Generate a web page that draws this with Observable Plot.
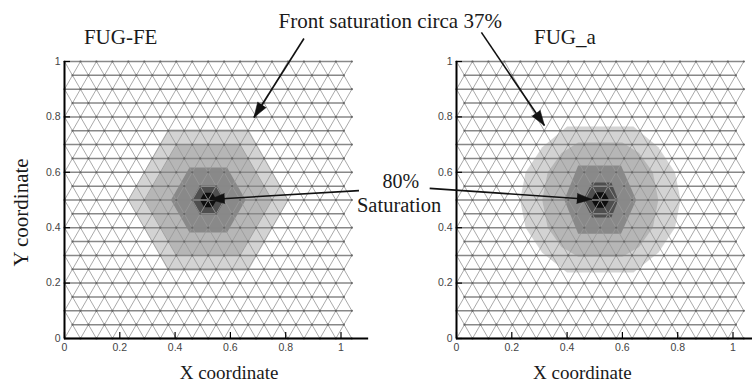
<!DOCTYPE html>
<html><head><meta charset="utf-8">
<script src="https://cdn.jsdelivr.net/npm/d3@7"></script>
<script src="https://cdn.jsdelivr.net/npm/@observablehq/plot@0.6"></script>
<style>
html,body{margin:0;padding:0;background:#fff;overflow:hidden;}
#chart{width:752px;height:385px;overflow:hidden;position:relative;}
#chart svg{max-width:none;}
</style></head><body><div id="chart"></div>
<script>
// ---- data ----
const panels = ["FUG-FE", "FUG_a"];
const xTicks = [0, 0.2, 0.4, 0.6, 0.8, 1];
const yTicks = [0, 0.2, 0.4, 0.6, 0.8, 1];
const tickLabels = ["0", "0.2", "0.4", "0.6", "0.8", "1"];
const meshRows = 20, meshCols = 18, meshRowHeight = 0.05;
const xMax = 1.1;
const bandColors = ["#d3d3d3", "#b6b6b6", "#898989", "#4e4e4e", "#0e0e0e"];

// contour bands (outer -> inner), polygon vertices
const feBands = [
  [[0.23,0.5],[0.375,0.755],[0.665,0.755],[0.81,0.5],[0.665,0.245],[0.375,0.245]],
  [[0.29,0.5],[0.405,0.70],[0.635,0.70],[0.75,0.5],[0.635,0.30],[0.405,0.30]],
  [[0.385,0.5],[0.452,0.617],[0.588,0.617],[0.655,0.5],[0.588,0.383],[0.452,0.383]],
  [[0.46,0.5],[0.49,0.552],[0.55,0.552],[0.58,0.5],[0.55,0.448],[0.49,0.448]],
  [[0.49,0.5],[0.505,0.526],[0.535,0.526],[0.55,0.5],[0.535,0.474],[0.505,0.474]]
];
const faBands = [
  [[0.23,0.5],[0.25,0.6],[0.31,0.69],[0.40,0.765],[0.64,0.765],[0.73,0.69],[0.79,0.6],[0.81,0.5],[0.79,0.4],[0.73,0.31],[0.64,0.238],[0.40,0.238],[0.31,0.31],[0.25,0.4]],
  [[0.31,0.5],[0.33,0.6],[0.38,0.67],[0.44,0.708],[0.60,0.708],[0.66,0.67],[0.71,0.6],[0.73,0.5],[0.71,0.4],[0.66,0.33],[0.60,0.295],[0.44,0.295],[0.38,0.33],[0.33,0.4]],
  [[0.39,0.5],[0.44,0.625],[0.595,0.625],[0.65,0.5],[0.595,0.378],[0.44,0.378]],
  [[0.458,0.5],[0.49,0.563],[0.56,0.563],[0.585,0.5],[0.56,0.437],[0.49,0.437]],
  [[0.488,0.5],[0.504,0.528],[0.536,0.528],[0.552,0.5],[0.536,0.472],[0.504,0.472]]
];

const labels = [
  {panel: "FUG-FE", x: 0.203, y: 1.088, text: "FUG-FE", size: 21, rotate: 0},
  {panel: "FUG_a", x: 0.392, y: 1.088, text: "FUG_a", size: 21, rotate: 0},
  {panel: "FUG-FE", x: 1.178, y: 1.147, text: "Front saturation circa 37%", size: 21, rotate: 0},
  {panel: "FUG-FE", x: 1.216, y: 0.565, text: "80%", size: 20, rotate: 0},
  {panel: "FUG-FE", x: 1.21, y: 0.479, text: "Saturation", size: 20.5, rotate: 0},
  {panel: "FUG-FE", x: 0.595, y: -0.125, text: "X coordinate", size: 19, rotate: 0},
  {panel: "FUG_a", x: 0.455, y: -0.125, text: "X coordinate", size: 19, rotate: 0},
  {panel: "FUG-FE", x: -0.155, y: 0.455, text: "Y coordinate", size: 21, rotate: -90}
];

const arrows = [
  {panel: "FUG-FE", x1: 0.866, y1: 1.083, x2: 0.685, y2: 0.798},
  {panel: "FUG_a", x1: 0.090, y1: 1.105, x2: 0.318, y2: 0.769},
  {panel: "FUG-FE", x1: 1.065, y1: 0.534, x2: 0.525, y2: 0.502},
  {panel: "FUG_a", x1: -0.097, y1: 0.542, x2: 0.49, y2: 0.502}
];

// ---- derived tables ----
const contourRows = [];
[["FUG-FE", feBands], ["FUG_a", faBands]].forEach(([panel, bands]) =>
  bands.forEach((pts, i) => pts.forEach(([x, y]) =>
    contourRows.push({panel, band: i, x, y, color: bandColors[i]}))));

const side = meshRowHeight * 2 / Math.sqrt(3);
const meshH = [], meshD = [], meshNodes = [];
for (let j = 0; j <= meshRows; j++) {
  const y = j * meshRowHeight, odd = j % 2 === 1;
  meshH.push({x1: odd ? side / 2 : 0, x2: odd ? (meshCols - 0.5) * side : meshCols * side, y1: y, y2: y});
  const n = odd ? meshCols : meshCols + 1;
  for (let k = 0; k < n; k++) meshNodes.push({x: (odd ? k + 0.5 : k) * side, y});
}
for (let j = 0; j < meshRows; j++) {
  const ya = j * meshRowHeight, yb = (j + 1) * meshRowHeight;
  const yOdd = j % 2 === 1 ? ya : yb, yEven = j % 2 === 1 ? yb : ya;
  for (let k = 0; k < meshCols; k++) {
    const xo = (k + 0.5) * side;
    meshD.push({x1: k * side, y1: yEven, x2: xo, y2: yOdd});
    meshD.push({x1: (k + 1) * side, y1: yEven, x2: xo, y2: yOdd});
  }
}
const headAngle = d => Math.atan2(d.x2 - d.x1, d.y2 - d.y1) * 180 / Math.PI;

// layout
const marginLeft = 64, facetStep = 392, pxPerUnit = 276.5;
const bandwidth = xMax * pxPerUnit;
const pInner = 1 - bandwidth / facetStep;
const rangeLen = facetStep * (2 - pInner);
const W = Math.ceil(marginLeft + rangeLen);
const frameH = 277;

const fmt = d => tickLabels[xTicks.indexOf(d)];

const chart = Plot.plot({
  width: W, height: 385,
  marginLeft, marginRight: W - marginLeft - rangeLen, marginTop: 61, marginBottom: 47,
  style: {fontFamily: "Liberation Sans, Arial, sans-serif", fontSize: "10.5px", background: "white", overflow: "visible"},
  fx: {domain: panels, paddingInner: pInner, paddingOuter: 0, round: false, axis: null},
  x: {domain: [0, xMax], axis: null},
  y: {domain: [0, 1], axis: null},
  color: {type: "identity"},
  marks: [
    Plot.line(contourRows, {fx: "panel", x: "x", y: "y", z: "band", fill: "color", stroke: "none", curve: "linear-closed"}),
    Plot.link(meshD, {x1: "x1", y1: "y1", x2: "x2", y2: "y2", stroke: "#9a9a9a", strokeWidth: 0.85}),
    Plot.link(meshH, {x1: "x1", y1: "y1", x2: "x2", y2: "y2", stroke: "#888", strokeWidth: 1.5}),
    Plot.dot(meshNodes, {x: "x", y: "y", r: 1.1, fill: "#666", stroke: "none"}),
    Plot.ruleX(xTicks, {x: d => d, insetTop: frameH - 6, stroke: "black", strokeWidth: 1.2}),
    Plot.ruleY(yTicks, {y: d => d, insetRight: bandwidth - 6, stroke: "black", strokeWidth: 1.2}),
    Plot.ruleX([0], {y1: 0, y2: 1, stroke: "black", strokeWidth: 2}),
    Plot.ruleY([0], {x1: 0, x2: xMax, stroke: "black", strokeWidth: 2}),
    Plot.axisX(xTicks, {tickSize: 0, tickPadding: 5, tickFormat: fmt, color: "#444", label: null, facetAnchor: null}),
    Plot.axisY(yTicks, {tickSize: 0, tickPadding: 4, tickFormat: fmt, color: "#444", label: null, facetAnchor: null}),
    Plot.link(arrows, {fx: "panel", x1: "x1", y1: "y1", x2: "x2", y2: "y2", stroke: "#111", strokeWidth: 1.6}),
    Plot.vector(arrows, {fx: "panel", x: "x2", y: "y2", rotate: headAngle, length: 15, anchor: "end", shape: "spike", r: 5, fill: "#111", stroke: "#111", strokeWidth: 0.5}),
    Plot.text(labels, {fx: "panel", x: "x", y: "y", text: "text", fontSize: d => d.size, rotate: "rotate", fontFamily: "Liberation Serif, Times New Roman, serif", fill: "#1a1a1a"})
  ]
});
document.getElementById("chart").appendChild(chart);
</script>
</body></html>
